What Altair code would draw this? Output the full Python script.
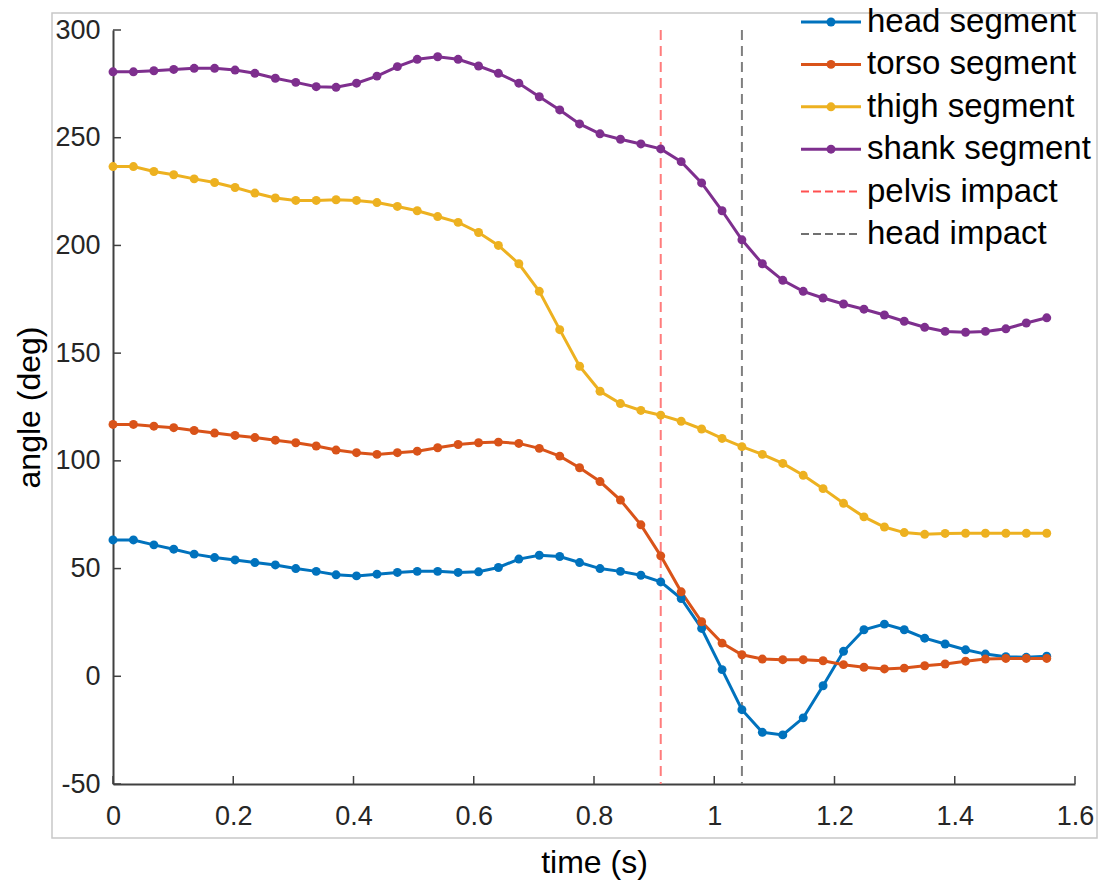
import altair as alt
import pandas as pd

# sample times (s), one frame every ~0.034 s
time_s = [0.000, 0.034, 0.068, 0.101, 0.135, 0.169, 0.203, 0.236, 0.270, 0.304,
          0.338, 0.371, 0.405, 0.439, 0.473, 0.506, 0.540, 0.574, 0.608, 0.641,
          0.675, 0.709, 0.743, 0.776, 0.810, 0.844, 0.878, 0.911, 0.945, 0.979,
          1.013, 1.046, 1.080, 1.114, 1.148, 1.181, 1.215, 1.249, 1.283, 1.316,
          1.350, 1.384, 1.418, 1.451, 1.485, 1.519, 1.553]

# segment angles (deg)
head = [63.3, 63.3, 61.0, 59.0, 56.7, 55.1, 54.0, 52.8, 51.7, 50.0,
        48.7, 47.1, 46.6, 47.4, 48.2, 48.7, 48.7, 48.2, 48.5, 50.5,
        54.4, 56.2, 55.6, 52.8, 50.0, 48.7, 46.9, 43.8, 36.1, 22.2,
        3.1, -15.5, -26.0, -27.2, -19.3, -4.4, 11.6, 21.6, 24.2, 21.6,
        17.7, 15.0, 12.3, 10.3, 9.1, 8.8, 9.3]
torso = [116.9, 116.9, 116.1, 115.4, 114.1, 112.9, 111.8, 110.8, 109.6, 108.4,
         106.9, 105.0, 103.8, 103.0, 103.8, 104.5, 106.1, 107.6, 108.4, 108.7,
         108.1, 105.8, 102.2, 96.8, 90.4, 81.8, 70.3, 55.9, 39.2, 25.3,
         15.4, 10.0, 8.0, 7.7, 7.7, 7.2, 5.4, 4.2, 3.4, 3.8,
         4.9, 5.7, 7.0, 8.0, 8.3, 8.3, 8.3]
thigh = [236.6, 236.6, 234.3, 232.8, 230.9, 229.2, 226.9, 224.3, 222.0, 220.9,
         220.9, 221.2, 220.9, 219.9, 218.1, 216.1, 213.4, 210.7, 206.0, 200.0,
         191.5, 178.7, 160.9, 143.9, 132.3, 126.6, 123.4, 121.2, 118.4, 114.8,
         110.4, 106.6, 103.0, 98.8, 93.3, 87.1, 80.3, 74.0, 69.3, 66.7,
         65.9, 66.3, 66.4, 66.4, 66.4, 66.4, 66.4]
shank = [280.6, 280.6, 281.1, 281.7, 282.2, 282.2, 281.4, 279.9, 277.6, 275.7,
         273.7, 273.4, 275.3, 278.6, 283.0, 286.4, 287.6, 286.4, 283.3, 279.9,
         275.3, 269.0, 262.9, 256.4, 251.8, 249.3, 247.1, 244.8, 238.9, 229.0,
         216.1, 202.6, 191.5, 183.8, 178.7, 175.6, 172.8, 170.4, 167.7, 164.8,
         162.0, 160.1, 159.7, 160.1, 161.3, 164.0, 166.4]

series_names = ["head segment", "torso segment", "thigh segment", "shank segment"]
series_colors = ["#0072BD", "#D95319", "#EDB120", "#7E2F8E"]

impact_names = ["pelvis impact", "head impact"]
impact_times = [0.911, 1.046]
impact_colors = ["#FF7C7C", "#7F7F7F"]
impact_legend_colors = ["#FF5050", "#707070"]

x_ticks = [0, 0.2, 0.4, 0.6, 0.8, 1.0, 1.2, 1.4, 1.6]
y_ticks = [-50, 0, 50, 100, 150, 200, 250, 300]

FONT = "Liberation Sans"
AXIS_COLOR = "#404040"

rows = []
for name, color, values in zip(series_names, series_colors, [head, torso, thigh, shank]):
    for t, v in zip(time_s, values):
        rows.append({"series": name, "color": color, "t": t, "angle": v})
df = pd.DataFrame(rows)

impacts = pd.DataFrame({"series": impact_names, "t": impact_times, "color": impact_colors})
xt = pd.DataFrame({"t": x_ticks})
yt = pd.DataFrame({"angle": y_ticks})

X = alt.X("t:Q",
          scale=alt.Scale(domain=[0, 1.6], nice=False, zero=False),
          axis=alt.Axis(values=x_ticks, labelExpr="datum.value + ''", title="time (s)",
                        ticks=False, grid=False, labelFlush=False, labelOverlap=False,
                        labelFontSize=27, labelPadding=19, titleFontSize=32,
                        titlePadding=18, domainColor=AXIS_COLOR, domainWidth=2))
Y = alt.Y("angle:Q",
          scale=alt.Scale(domain=[-50, 300], nice=False, zero=False),
          axis=alt.Axis(values=y_ticks, labelExpr="datum.value + ''", title="angle (deg)",
                        ticks=False, grid=False, labelFlush=False, labelOverlap=False,
                        labelFontSize=27, labelPadding=13, titleFontSize=32,
                        titlePadding=8, domainColor=AXIS_COLOR, domainWidth=2))
C = alt.Color("color:N", scale=None)

lines = alt.Chart(df).mark_line(strokeWidth=3).encode(x=X, y=Y, color=C, detail="series:N")
points = alt.Chart(df).mark_circle(size=80, opacity=1).encode(x=X, y=Y, color=C)
impact_rules = alt.Chart(impacts).mark_rule(strokeWidth=2, strokeDash=[10, 6]).encode(x=X, color=C)

# inward-pointing tick marks
x_tick_marks = alt.Chart(xt).mark_rule(color=AXIS_COLOR, strokeWidth=1.5).encode(
    x=X, y=alt.value(754), y2=alt.value(746))
y_tick_marks = alt.Chart(yt).mark_rule(color=AXIS_COLOR, strokeWidth=1.5).encode(
    y=Y, x=alt.value(0), x2=alt.value(8))

main = alt.layer(impact_rules, lines, points, x_tick_marks, y_tick_marks)

# legend drawn as marks at the upper right
legend_labels = series_names + impact_names
leg_series = pd.DataFrame({"label": series_names, "color": series_colors})
leg_impact = pd.DataFrame({"label": impact_names, "color": impact_legend_colors})
leg_all = pd.DataFrame({"label": legend_labels})
LY = alt.Y("label:N", axis=None,
           scale=alt.Scale(type="point", domain=legend_labels, range=[-8, 204], padding=0))

leg_lines = alt.Chart(leg_series).mark_rule(strokeWidth=3).encode(
    x=alt.value(688), x2=alt.value(748), y=LY, color=C)
leg_points = alt.Chart(leg_series).mark_circle(size=80, opacity=1).encode(
    x=alt.value(718), y=LY, color=C)
leg_dashes = alt.Chart(leg_impact).mark_rule(strokeWidth=2, strokeDash=[8, 4]).encode(
    x=alt.value(688), x2=alt.value(748), y=LY, color=C)
leg_text = alt.Chart(leg_all).mark_text(
    align="left", baseline="middle", fontSize=33, font=FONT, color="#000000").encode(
    x=alt.value(754), y=LY, text="label:N")

frame = alt.Chart(pd.DataFrame({"k": [0]})).mark_rect(
    fillOpacity=0, stroke="#C8C8C8", strokeWidth=1.5).encode(
    x=alt.value(-61), x2=alt.value(984), y=alt.value(-17), y2=alt.value(808))

legend = alt.layer(frame, leg_lines, leg_dashes, leg_points, leg_text)

chart = alt.layer(main, legend).resolve_scale(y="independent").properties(
    width=962, height=754,
    autosize=alt.AutoSizeParams(type="none"),
    padding={"left": 113, "top": 30, "right": 29, "bottom": 108},
    background="white",
).configure_view(stroke=None).configure_axis(
    labelFont=FONT, titleFont=FONT, labelColor="#262626", titleColor="#000000",
    titleFontWeight="normal",
)

chart.save("out.html", embed_options={"renderer": "svg", "actions": False})
